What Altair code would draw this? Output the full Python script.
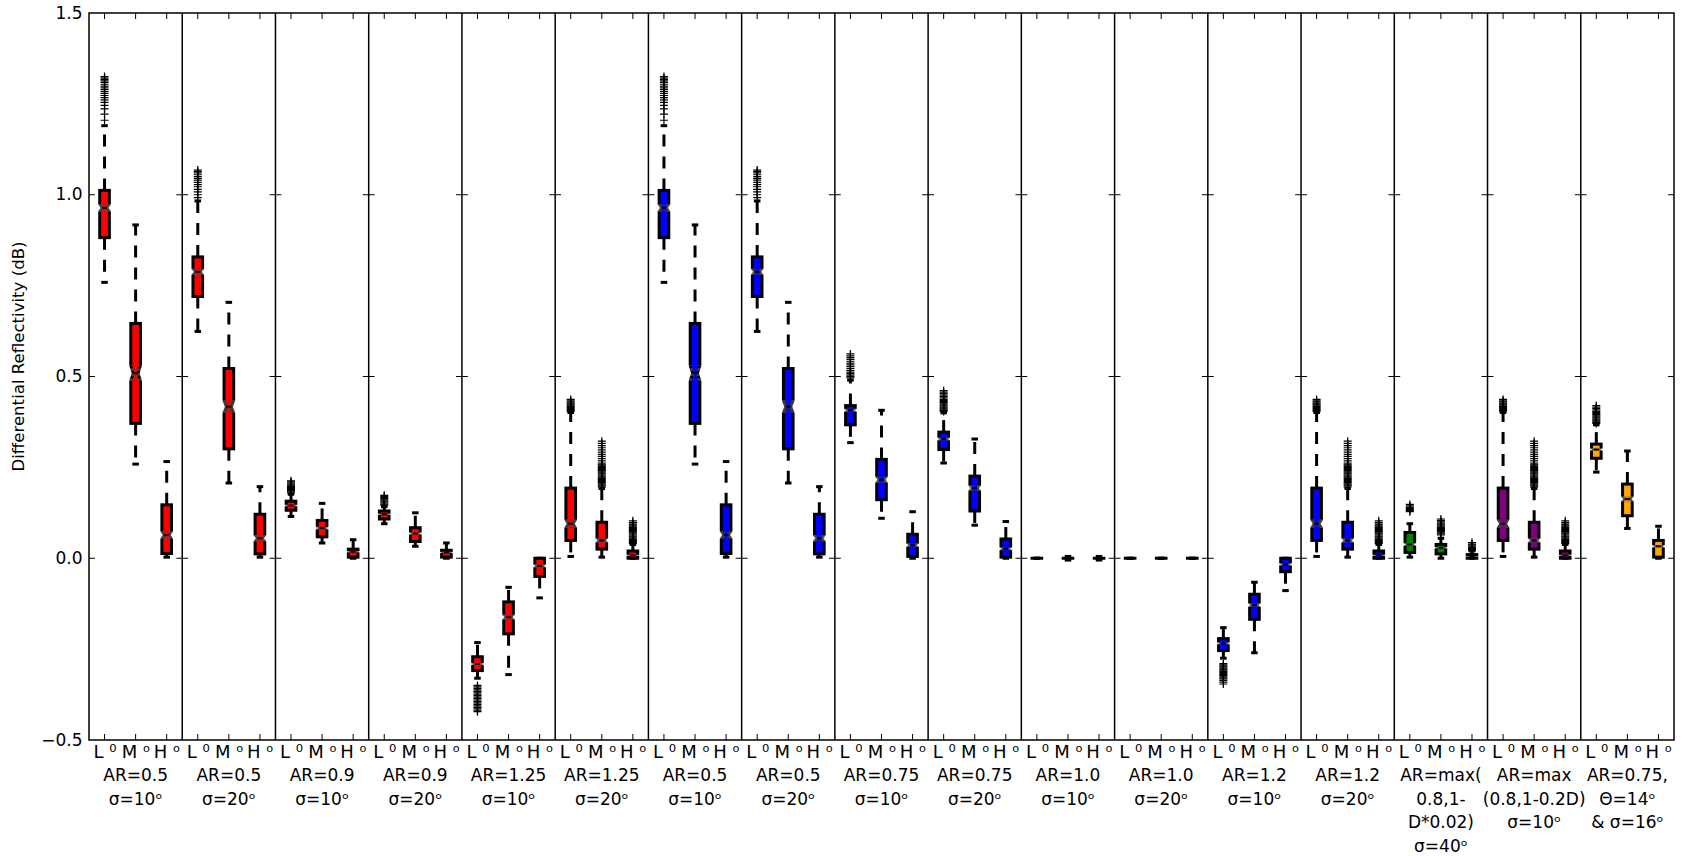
import altair as alt
import pandas as pd

FONT = "DejaVu Sans"

PANEL_LABELS = [
    "AR=0.5\nσ=10ᵒ", "AR=0.5\nσ=20ᵒ", "AR=0.9\nσ=10ᵒ", "AR=0.9\nσ=20ᵒ",
    "AR=1.25\nσ=10ᵒ", "AR=1.25\nσ=20ᵒ", "AR=0.5\nσ=10ᵒ", "AR=0.5\nσ=20ᵒ",
    "AR=0.75\nσ=10ᵒ", "AR=0.75\nσ=20ᵒ", "AR=1.0\nσ=10ᵒ", "AR=1.0\nσ=20ᵒ",
    "AR=1.2\nσ=10ᵒ", "AR=1.2\nσ=20ᵒ", "AR=max(\n0.8,1-\nD*0.02)\nσ=40ᵒ",
    "AR=max\n(0.8,1-0.2D)\nσ=10ᵒ", "AR=0.75,\nΘ=14ᵒ\n& σ=16ᵒ",
]
PANEL_COLORS = ["#ff0000"] * 6 + ["#0000ff"] * 8 + ["#008000", "#800080", "#ffa500"]
SIZE_LABELS = ["L ⁰", "M ᵒ", "H ᵒ"]

# Box statistics, rows L, M, H: (low whisker, Q1, median, Q3, high whisker)
AR05_S10 = [(0.759, 0.882, 0.964, 1.012, 1.190),
            (0.259, 0.371, 0.509, 0.646, 0.917),
            (0.003, 0.013, 0.064, 0.147, 0.266)]
AR05_S20 = [(0.624, 0.720, 0.788, 0.829, 0.983),
            (0.207, 0.301, 0.417, 0.522, 0.704),
            (0.003, 0.012, 0.055, 0.121, 0.197)]
AR09_S10 = [(0.115, 0.132, 0.145, 0.157, 0.176),
            (0.042, 0.059, 0.083, 0.104, 0.151),
            (0.000, 0.003, 0.018, 0.025, 0.051)]
AR09_S20 = [(0.095, 0.108, 0.121, 0.130, 0.142),
            (0.033, 0.046, 0.068, 0.084, 0.125),
            (0.000, 0.003, 0.016, 0.022, 0.042)]
AR125_S10 = [(-0.330, -0.309, -0.291, -0.271, -0.232),
             (-0.320, -0.208, -0.162, -0.120, -0.080),
             (-0.109, -0.050, -0.021, 0.000, 0.000)]
AR125_S20 = [(0.005, 0.049, 0.095, 0.193, 0.401),
             (0.003, 0.025, 0.049, 0.099, 0.192),
             (0.000, 0.000, 0.008, 0.020, 0.038)]
AR075_S10 = [(0.318, 0.367, 0.407, 0.420, 0.490),
             (0.110, 0.161, 0.216, 0.272, 0.407),
             (0.000, 0.005, 0.036, 0.066, 0.128)]
AR075_S20 = [(0.262, 0.299, 0.328, 0.347, 0.400),
             (0.091, 0.130, 0.193, 0.226, 0.328),
             (0.000, 0.003, 0.026, 0.053, 0.101)]
AR10_S10 = [(0.000, 0.000, 0.000, 0.000, 0.000),
            (-0.005, 0.000, 0.000, 0.000, 0.005),
            (-0.005, 0.000, 0.000, 0.000, 0.005)]
AR10_S20 = [(0.000, 0.000, 0.000, 0.000, 0.000),
            (0.000, 0.000, 0.000, 0.000, 0.000),
            (0.000, 0.000, 0.000, 0.000, 0.000)]
AR12_S10 = [(-0.275, -0.254, -0.234, -0.221, -0.191),
            (-0.260, -0.168, -0.129, -0.099, -0.066),
            (-0.089, -0.037, -0.017, 0.000, 0.000)]
AR12_S20 = [(0.005, 0.049, 0.095, 0.193, 0.401),
            (0.003, 0.025, 0.049, 0.099, 0.192),
            (0.000, 0.000, 0.008, 0.020, 0.038)]
ARMAX_S40 = [(0.003, 0.016, 0.038, 0.071, 0.095),
             (0.000, 0.012, 0.029, 0.038, 0.055),
             (0.000, 0.000, 0.004, 0.010, 0.020)]
ARMAX_S10 = [(0.005, 0.049, 0.095, 0.193, 0.401),
             (0.003, 0.025, 0.049, 0.099, 0.192),
             (0.000, 0.000, 0.008, 0.020, 0.038)]
AR075_T14 = [(0.237, 0.275, 0.299, 0.314, 0.367),
             (0.082, 0.117, 0.163, 0.204, 0.295),
             (0.000, 0.003, 0.033, 0.049, 0.088)]

PANEL_STATS = [AR05_S10, AR05_S20, AR09_S10, AR09_S20, AR125_S10, AR125_S20,
               AR05_S10, AR05_S20, AR075_S10, AR075_S20, AR10_S10, AR10_S20,
               AR12_S10, AR12_S20, ARMAX_S40, ARMAX_S10, AR075_T14]

# Outlying values beyond the whiskers, per panel, rows L, M, H
OUT_AR05_S10 = [[1.205, 1.222, 1.236, 1.246, 1.254, 1.261, 1.267, 1.273, 1.279, 1.284,
                 1.289, 1.294, 1.299, 1.304, 1.309, 1.313, 1.317, 1.321, 1.325], [], []]
OUT_AR05_S20 = [[0.992, 1.000, 1.008, 1.015, 1.022, 1.028, 1.034, 1.040, 1.045, 1.050,
                 1.055, 1.060, 1.064, 1.068], [], []]
OUT_AR09_S10 = [[0.180, 0.183, 0.186, 0.189, 0.192, 0.195, 0.198, 0.201, 0.204, 0.207,
                 0.210, 0.213], [], []]
OUT_AR09_S20 = [[0.146, 0.149, 0.152, 0.155, 0.158, 0.161, 0.164, 0.167, 0.170, 0.173],
                [], []]
OUT_AR125_S10 = [[-0.350, -0.354, -0.358, -0.362, -0.366, -0.370, -0.374, -0.378, -0.382,
                  -0.386, -0.390, -0.394, -0.398, -0.402, -0.406, -0.410, -0.414, -0.418,
                  -0.422], [], []]
OUT_AR125_S20 = [[0.403, 0.406, 0.409, 0.412, 0.415, 0.418, 0.421, 0.424, 0.427, 0.430,
                  0.433, 0.437],
                 [0.196, 0.199, 0.202, 0.205, 0.208, 0.211, 0.214, 0.217, 0.220, 0.223,
                  0.226, 0.229, 0.232, 0.235, 0.238, 0.241, 0.244, 0.247, 0.250, 0.253,
                  0.256, 0.259, 0.262, 0.268, 0.274, 0.280, 0.286, 0.292, 0.298, 0.304,
                  0.310, 0.316, 0.322],
                 [0.040, 0.043, 0.046, 0.049, 0.052, 0.055, 0.058, 0.061, 0.064, 0.067,
                  0.070, 0.073, 0.076, 0.079, 0.082, 0.085, 0.088, 0.091, 0.094, 0.098,
                  0.103]]
OUT_AR075_S10 = [[0.496, 0.500, 0.504, 0.508, 0.512, 0.517, 0.522, 0.527, 0.532, 0.537,
                  0.542, 0.547, 0.552, 0.557, 0.562], [], []]
OUT_AR075_S20 = [[0.404, 0.407, 0.410, 0.413, 0.416, 0.419, 0.422, 0.425, 0.428, 0.431,
                  0.434, 0.437, 0.441, 0.445, 0.449, 0.453, 0.457, 0.461], [], []]
OUT_AR12_S10 = [[-0.290, -0.293, -0.296, -0.299, -0.302, -0.305, -0.308, -0.311, -0.314,
                 -0.317, -0.320, -0.323, -0.326, -0.329, -0.332, -0.336, -0.341, -0.346],
                [], []]
OUT_ARMAX_S40 = [[0.128, 0.131, 0.134, 0.137, 0.140, 0.144, 0.148],
                 [0.064, 0.067, 0.070, 0.073, 0.076, 0.079, 0.082, 0.085, 0.088, 0.091,
                  0.094, 0.097, 0.100, 0.104, 0.108],
                 [0.021, 0.024, 0.027, 0.030, 0.033, 0.036, 0.039, 0.043]]
OUT_AR075_T14 = [[0.371, 0.374, 0.377, 0.380, 0.383, 0.386, 0.389, 0.392, 0.395, 0.398,
                  0.401, 0.404, 0.408, 0.412, 0.416, 0.420], [], []]
NO_OUT = [[], [], []]

PANEL_OUTLIERS = [OUT_AR05_S10, OUT_AR05_S20, OUT_AR09_S10, OUT_AR09_S20, OUT_AR125_S10,
                  OUT_AR125_S20, OUT_AR05_S10, OUT_AR05_S20, OUT_AR075_S10, OUT_AR075_S20,
                  NO_OUT, NO_OUT, OUT_AR12_S10, OUT_AR125_S20, OUT_ARMAX_S40,
                  OUT_AR125_S20, OUT_AR075_T14]

Y_TICKS = [-0.5, 0.0, 0.5, 1.0, 1.5]

# ---- geometry (x-scale units: each panel spans 3 units) ----
W, H = 1585, 727
N_PANELS = len(PANEL_LABELS)
X_MAX = 3 * N_PANELS
Y_MIN, Y_MAX = -0.5, 1.5
HALF_W = 0.155      # half width of a box
CAP_W = 0.105       # half width of a whisker cap
NOTCH_FRAC = 0.075  # notch half height relative to the IQR
NOTCH_STEPS = 6     # slices used to draw each half of a notch
TICK_W = 0.19       # length of the inner y ticks on the panel borders
EDGE_PX = 1.5       # half of the box outline width, in pixels
BX = EDGE_PX * X_MAX / W
BY = EDGE_PX * (Y_MAX - Y_MIN) / H


def box_profile(q1, med, q3):
    """Horizontal slices (y0, y1, half width) of a notched box."""
    n = NOTCH_FRAC * (q3 - q1)
    if q3 <= q1 or n <= 0:
        return [(q1, q3, HALF_W)]
    lo_n, hi_n = max(med - n, q1), min(med + n, q3)
    pieces = []
    if lo_n > q1:
        pieces.append((q1, lo_n, HALF_W))
    for a_end, b_end in ((lo_n, med), (med, hi_n)):
        for s in range(NOTCH_STEPS):
            a = a_end + (b_end - a_end) * s / NOTCH_STEPS
            b = a_end + (b_end - a_end) * (s + 1) / NOTCH_STEPS
            t = abs((a + b) / 2 - med) / n
            pieces.append((a, b, HALF_W * (0.5 + 0.5 * t)))
    if hi_n < q3:
        pieces.append((hi_n, q3, HALF_W))
    return pieces


edge_rows, fill_rows, whisk_rows, cap_rows, med_rows, out_rows, pos_rows = [], [], [], [], [], [], []
for p in range(N_PANELS):
    color = PANEL_COLORS[p]
    for j in range(3):
        pos = 3 * p + j + 0.5
        lo, q1, med, q3, hi = PANEL_STATS[p][j]
        pos_rows.append(dict(pos=pos))
        for a, b, hw in box_profile(q1, med, q3):
            edge_rows.append(dict(x=pos - hw - BX, x2=pos + hw + BX,
                                  y=a - BY if a == q1 else a,
                                  y2=b + BY if b == q3 else b))
            fa, fb = max(a, q1 + BY), min(b, q3 - BY)
            if fb > fa and hw > BX:
                fill_rows.append(dict(x=pos - hw + BX, x2=pos + hw - BX, y=fa, y2=fb,
                                      color=color))
        if hi > q3:
            whisk_rows.append(dict(pos=pos, y=q3, y2=hi))
        if lo < q1:
            whisk_rows.append(dict(pos=pos, y=q1, y2=lo))
        for v in (lo, hi):
            cap_rows.append(dict(left=pos - CAP_W, right=pos + CAP_W, y=v))
        med_rows.append(dict(left=pos - HALF_W / 2, right=pos + HALF_W / 2, y=med))
        for v in PANEL_OUTLIERS[p][j]:
            out_rows.append(dict(pos=pos, y=v))

borders = [3 * k for k in range(N_PANELS + 1)]
divider_df = pd.DataFrame(dict(x=borders[1:-1]))
ytick_rows = []
for b in borders:
    for yv in Y_TICKS[1:-1]:
        ytick_rows.append(dict(lo=max(b - TICK_W, 0), hi=min(b + TICK_W, X_MAX), y=yv))

label_df = pd.DataFrame(dict(x=[3 * p + 1.5 for p in range(N_PANELS)], text=PANEL_LABELS))

x_scale = alt.Scale(domain=[0, X_MAX], nice=False, zero=False)
y_scale = alt.Scale(domain=[Y_MIN, Y_MAX], nice=False, zero=False)

x_axis = alt.Axis(
    values=[3 * p + j + 0.5 for p in range(N_PANELS) for j in range(3)],
    labelExpr="['L ⁰','M ᵒ','H ᵒ'][floor(datum.value) % 3]",
    ticks=False, domain=False, grid=False, title=None,
    labelFontSize=18, labelFont=FONT, labelColor="black", labelPadding=3,
    labelOverlap=False, labelBound=False, labelFlush=False, labelAngle=0,
)
y_axis = alt.Axis(
    values=Y_TICKS, format=".1f", ticks=False, domain=False, grid=False,
    title="Differential Reflectivity (dB)", titleFont=FONT, titleFontSize=16.6,
    titleFontWeight="normal", titleColor="black", titleX=-71, titleY=343,
    titleAlign="center", titleBaseline="middle", titleAngle=-90,
    labelFontSize=17, labelFont=FONT, labelColor="black", labelPadding=7,
)


def X(f):
    return alt.X(f, type="quantitative", scale=x_scale, axis=x_axis)


def Y(f):
    return alt.Y(f, type="quantitative", scale=y_scale, axis=y_axis)


dividers = alt.Chart(divider_df).mark_rule(color="black", strokeWidth=1.5).encode(x=X("x"))

whiskers = alt.Chart(pd.DataFrame(whisk_rows)).mark_rule(
    color="black", strokeWidth=3, strokeDash=[12, 10], strokeCap="butt"
).encode(x=X("pos"), y=Y("y"), y2="y2")

caps = alt.Chart(pd.DataFrame(cap_rows)).mark_rule(
    color="black", strokeWidth=3, strokeCap="butt"
).encode(x=X("left"), x2="right", y=Y("y"))

box_edges = alt.Chart(pd.DataFrame(edge_rows)).mark_rect(
    color="black", strokeWidth=0
).encode(x=X("x"), x2="x2", y=Y("y"), y2="y2")

box_fills = alt.Chart(pd.DataFrame(fill_rows)).mark_rect(strokeWidth=0).encode(
    x=X("x"), x2="x2", y=Y("y"), y2="y2", fill=alt.Fill("color:N", scale=None)
)

medians = alt.Chart(pd.DataFrame(med_rows)).mark_rule(
    color="black", strokeWidth=2, strokeCap="butt"
).encode(x=X("left"), x2="right", y=Y("y"))

outliers = alt.Chart(pd.DataFrame(out_rows)).mark_point(
    shape="M-1,0L1,0M0,-1L0,1", size=64, filled=False, stroke="black",
    strokeWidth=1.2, opacity=1
).encode(x=X("pos"), y=Y("y"))

yticks = alt.Chart(pd.DataFrame(ytick_rows)).mark_rule(
    color="black", strokeWidth=1
).encode(x=X("lo"), x2="hi", y=Y("y"))

pos_df = pd.DataFrame(pos_rows)
top_ticks = alt.Chart(pos_df).mark_rule(color="black", strokeWidth=1).encode(
    x=X("pos"), y=alt.value(0), y2=alt.value(6))
bottom_ticks = alt.Chart(pos_df).mark_rule(color="black", strokeWidth=1).encode(
    x=X("pos"), y=alt.value(H - 6), y2=alt.value(H))

labels = alt.Chart(label_df).mark_text(
    align="center", baseline="top", fontSize=17, font=FONT, lineHeight=23.5,
    lineBreak="\n", color="black"
).encode(x=X("x"), y=alt.value(H + 28), text="text:N")

chart = alt.layer(
    dividers, whiskers, caps, box_edges, box_fills, medians, outliers, yticks,
    top_ticks, bottom_ticks, labels
).properties(
    width=W, height=H,
    autosize=alt.AutoSizeParams(type="none"),
    padding={"left": 89, "top": 13, "right": 9, "bottom": 116},
    background="white",
).configure_view(stroke="black", strokeWidth=1.5)

chart.save("out.html", embed_options={"renderer": "svg", "actions": False})
